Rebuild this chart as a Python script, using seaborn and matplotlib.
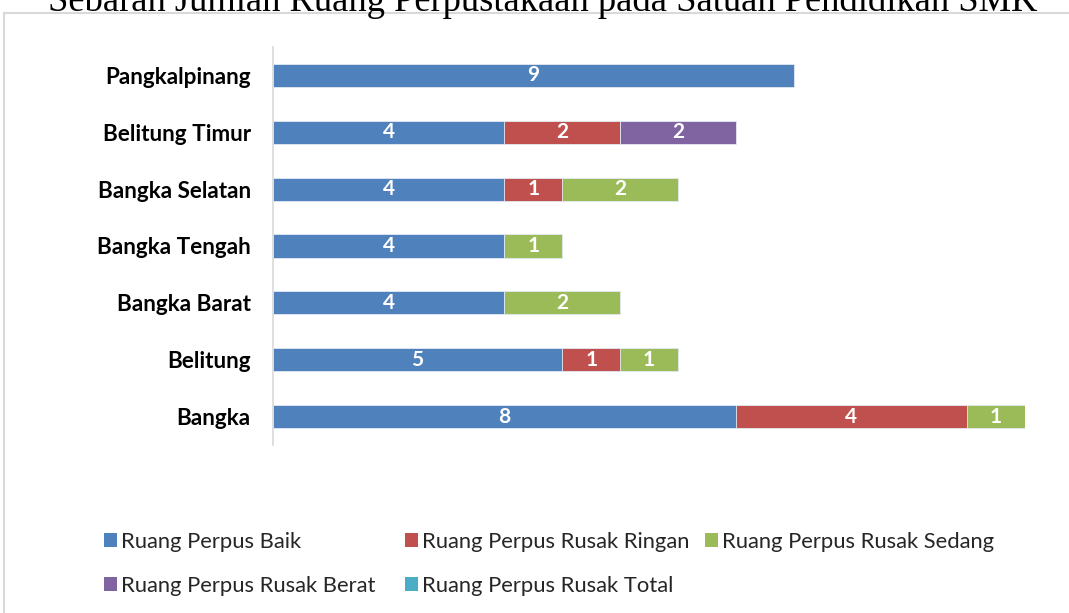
import matplotlib
matplotlib.use("Agg")
import matplotlib.pyplot as plt
from matplotlib.patches import Rectangle, Patch
import numpy as np
import pandas as pd
import seaborn as sns

# Data
wilayah = ["Pangkalpinang", "Belitung Timur", "Bangka Selatan", "Bangka Tengah",
           "Bangka Barat", "Belitung", "Bangka"]
baik = [9, 4, 4, 4, 4, 5, 8]
rusak_ringan = [0, 2, 1, 0, 0, 1, 4]
rusak_sedang = [0, 0, 2, 1, 2, 1, 1]
rusak_berat = [0, 2, 0, 0, 0, 0, 0]
rusak_total = [0, 0, 0, 0, 0, 0, 0]

series_names = ["Ruang Perpus Baik", "Ruang Perpus Rusak Ringan", "Ruang Perpus Rusak Sedang",
                "Ruang Perpus Rusak Berat", "Ruang Perpus Rusak Total"]
series_vals = [baik, rusak_ringan, rusak_sedang, rusak_berat, rusak_total]
colors = ["#4F81BD", "#C0504D", "#9BBB59", "#8064A2", "#4BACC6"]

title = "Sebaran Jumlah Ruang Perpustakaan pada Satuan Pendidikan SMK"

sns.set_theme(style="white")
plt.rcParams["font.family"] = ["Lato", "DejaVu Sans"]

W, H = 1069, 613
fig = plt.figure(figsize=(W / 100, H / 100), dpi=100)
ax = fig.add_axes([273 / W, 1 - 445 / H, (1025 - 273) / W, (445 - 47) / H])

vals = np.array(series_vals, dtype=float)
cum = np.cumsum(vals, axis=0)

# Stacked bars: draw cumulative totals from the outermost series inward
for i in range(len(series_names) - 1, -1, -1):
    df = pd.DataFrame({"wilayah": wilayah, "nilai": cum[i]})
    sns.barplot(data=df, x="nilai", y="wilayah", order=wilayah, color=colors[i],
                saturation=1, width=0.405, orient="h", ax=ax,
                edgecolor="#E6ECF4", linewidth=0.6)

# Segment value labels
for i in range(len(series_names)):
    starts = cum[i] - vals[i]
    for j, v in enumerate(vals[i]):
        if v > 0:
            ax.text(starts[j] + v / 2, j, f"{int(v)}", ha="center", va="center",
                    color="white", fontsize=15, fontweight="bold")

ax.set_xlim(0, 13)
ax.set_ylim(len(wilayah) - 0.5, -0.5)
ax.set_xlabel("")
ax.set_ylabel("")
ax.set_xticks([])
ax.tick_params(axis="y", length=0, pad=16)
for lbl in ax.get_yticklabels():
    lbl.set_fontweight("bold")
    lbl.set_fontsize(16.2)
    lbl.set_color("black")
for s in ["top", "right", "bottom"]:
    ax.spines[s].set_visible(False)
ax.spines["left"].set_color("#D9D9D9")
ax.spines["left"].set_linewidth(1.2)

# Chart frame
fig.add_artist(Rectangle((4 / W, -0.05), 1.2, 1 - 13 / H + 0.05, transform=fig.transFigure,
                         fill=False, edgecolor="#D9D9D9", linewidth=1.5, clip_on=False))

# Title (partly above the canvas)
fig.text(0.508, 1 - 11 / H, title, ha="center", va="baseline",
         family=["Liberation Serif", "DejaVu Serif"], fontsize=26.3, color="black")

# Legend entries on a fixed 3-column grid
legend_x = [104, 405, 705, 104, 405]
legend_y = [542, 542, 542, 586, 586]
for k, name in enumerate(series_names):
    leg = fig.legend([Patch(facecolor=colors[k], edgecolor="none")], [name],
                     loc="center left", bbox_to_anchor=(legend_x[k] / W, 1 - legend_y[k] / H),
                     frameon=False, fontsize=15.8, handlelength=0.6, handleheight=0.6,
                     handletextpad=0.18, borderpad=0, borderaxespad=0)

fig.savefig("out.png", dpi=100)
